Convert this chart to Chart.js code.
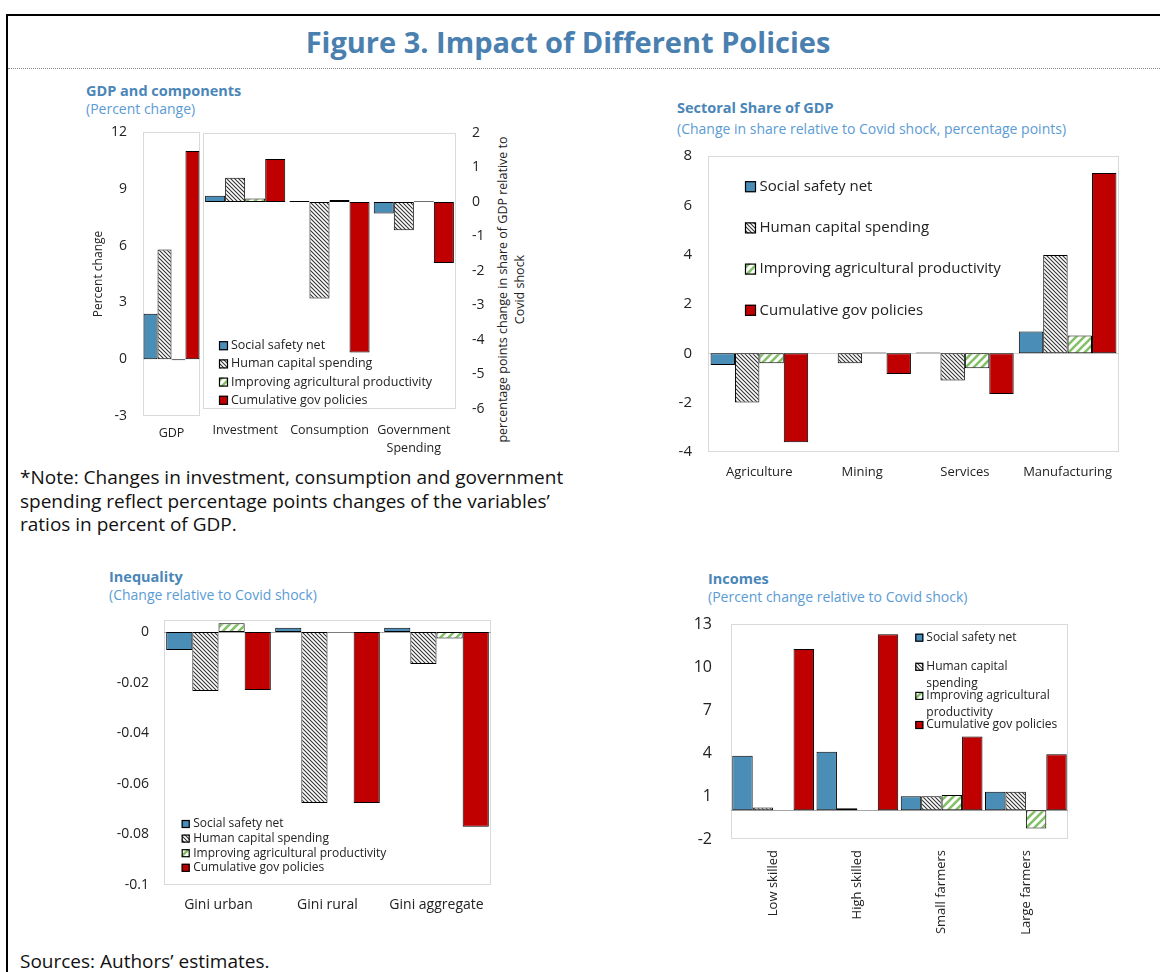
<!DOCTYPE html>
<html>
<head>
<meta charset="utf-8">
<script src="https://cdn.jsdelivr.net/npm/chart.js@4.4.1/dist/chart.umd.min.js"></script>
<style>
  html, body { margin: 0; padding: 0; background: #fff; }
  body { width: 1160px; height: 972px; position: relative; overflow: hidden; font-family: 'Open Sans', sans-serif; color: #111; }
  .abs { position: absolute; white-space: nowrap; }
  .frame { position: absolute; left: 6px; top: 14px; width: 1170px; height: 980px; border-top: 2px solid #000; border-left: 2px solid #000; }
  .rule { position: absolute; left: 8px; top: 68px; width: 1152px; border-top: 1px dotted #8a8a8a; }
  .fig-title { left: 0; width: 1136px; top: 24px; text-align: center; font-size: 29px; line-height: 36px; font-weight: 700; color: #4a80b0; }
  .ptitle { font-size: 14.5px; line-height: 18px; font-weight: 700; color: #4a86b8; }
  .psub { font-size: 14px; line-height: 18px; color: #5b9bd5; }
  .note { font-size: 19px; line-height: 23.5px; color: #111; }
  .rtitle { left: 351px; top: 273px; width: 320px; font-size: 12.5px; line-height: 16.5px; text-align: center; color: #222; transform: rotate(-90deg); }
  canvas { position: absolute; }
</style>
</head>
<body>
<div class="frame"></div>
<div class="rule"></div>
<div class="abs fig-title">Figure 3. Impact of Different Policies</div>

<div class="abs ptitle" style="left:86px;top:82px">GDP and components</div>
<div class="abs psub" style="left:86px;top:100px">(Percent change)</div>
<div class="abs ptitle" style="left:677px;top:99px">Sectoral Share of GDP</div>
<div class="abs psub" style="left:677px;top:120px">(Change in share relative to Covid shock, percentage points)</div>
<div class="abs ptitle" style="left:109px;top:568px">Inequality</div>
<div class="abs psub" style="left:109px;top:586px">(Change relative to Covid shock)</div>
<div class="abs ptitle" style="left:708px;top:570px">Incomes</div>
<div class="abs psub" style="left:708px;top:588px">(Percent change relative to Covid shock)</div>

<div class="abs rtitle">percentage points change in share of GDP relative to<br>Covid shock</div>

<div class="abs note" style="left:20px;top:466px">*Note: Changes in investment, consumption and government<br>spending reflect percentage points changes of the variables’<br>ratios in percent of GDP.</div>
<div class="abs note" style="left:20px;top:950px">Sources: Authors’ estimates.</div>

<canvas id="gdpChart" width="117" height="330" style="left:85px;top:120px"></canvas>
<canvas id="compChart" width="330" height="335" style="left:200px;top:120px"></canvas>
<canvas id="sectorChart" width="465" height="340" style="left:660px;top:145px"></canvas>
<canvas id="giniChart" width="395" height="310" style="left:100px;top:610px"></canvas>
<canvas id="incomeChart" width="384" height="322" style="left:688px;top:614px"></canvas>

<script>
// series (same four in every panel)
const policies = ['Social safety net', 'Human capital spending', 'Improving agricultural productivity', 'Cumulative gov policies'];

// GDP and components
const gdpCategories = ['GDP'];
const gdpValues = [2.4, 5.8, -0.05, 11.0]; // one value per policy
const gdpTicks = [-3, 0, 3, 6, 9, 12];

const compCategories = ['Investment', 'Consumption', ['Government', 'Spending']];
const compSafetyNet = [0.18, 0.03, -0.33];
const compHumanCapital = [0.70, -2.80, -0.82];
const compAgri = [0.10, 0.06, 0.02];
const compCumulative = [1.25, -4.36, -1.77];
const compTicks = [-6, -5, -4, -3, -2, -1, 0, 1, 2];

// Sectoral share of GDP
const sectors = ['Agriculture', 'Mining', 'Services', 'Manufacturing'];
const sectorSafetyNet = [-0.47, 0, 0.03, 0.89];
const sectorHumanCapital = [-1.99, -0.40, -1.10, 3.99];
const sectorAgri = [-0.40, 0.03, -0.60, 0.72];
const sectorCumulative = [-3.60, -0.84, -1.65, 7.31];
const sectorTicks = [-4, -2, 0, 2, 4, 6, 8];

// Inequality
const giniCategories = ['Gini urban', 'Gini rural', 'Gini aggregate'];
const giniSafetyNet = [-0.0072, 0.0016, 0.0016];
const giniHumanCapital = [-0.0234, -0.0676, -0.0127];
const giniAgri = [0.0034, -0.0002, -0.0026];
const giniCumulative = [-0.0230, -0.0676, -0.0770];
const giniTicks = [-0.1, -0.08, -0.06, -0.04, -0.02, 0];

// Incomes
const incomeGroups = ['Low skilled', 'High skilled', 'Small farmers', 'Large farmers'];
const incSafetyNet = [3.80, 4.08, 0.98, 1.30];
const incHumanCapital = [0.20, 0.14, 0.98, 1.30];
const incAgri = [0, 0, 1.07, -1.26];
const incCumulative = [11.26, 12.28, 5.15, 3.92];
const incTicks = [-2, 1, 4, 7, 10, 13];
const incLegendLines = [['Social safety net'], ['Human capital', 'spending'], ['Improving agricultural', 'productivity'], ['Cumulative gov policies']];

Chart.defaults.font.family = "'Open Sans', sans-serif";

// diagonal stripe fills
function stripes(size, color, width, dir) {
    const c = document.createElement('canvas');
    c.width = c.height = size;
    const g = c.getContext('2d');
    g.fillStyle = '#fff';
    g.fillRect(0, 0, size, size);
    g.strokeStyle = color;
    g.lineWidth = width;
    g.beginPath();
    for (let k = -1; k <= 1; k++) {
        if (dir === 'down') {
            g.moveTo(k * size - 1, -1);
            g.lineTo(k * size + size + 1, size + 1);
        } else {
            g.moveTo(k * size - 1, size + 1);
            g.lineTo(k * size + size + 1, -1);
        }
    }
    g.stroke();
    return g.createPattern(c, 'repeat');
}

const fills = [
    '#4a8db7',
    stripes(4, '#333', 1.1, 'down'),
    stripes(8, '#84c066', 2.6, 'up'),
    '#c00000'
];

// box round the plot area + optional zero line
const framePlugin = {
    id: 'frame',
    beforeDatasetsDraw(chart, args, o) {
        const ctx = chart.ctx, a = chart.chartArea;
        ctx.save();
        ctx.strokeStyle = '#d9d9d9';
        ctx.lineWidth = 1;
        ctx.strokeRect(Math.round(a.left) + 0.5, Math.round(a.top) + 0.5, Math.round(a.right - a.left) - 1, Math.round(a.bottom - a.top) - 1);
        if (o.zero) {
            const y = Math.round(chart.scales.y.getPixelForValue(0)) + 0.5;
            ctx.strokeStyle = o.zero;
            ctx.beginPath();
            ctx.moveTo(a.left, y);
            ctx.lineTo(a.right, y);
            ctx.stroke();
        }
        ctx.restore();
    }
};

// legend drawn inside the plot area
const insideLegend = {
    id: 'insideLegend',
    afterDatasetsDraw(chart, args, o) {
        if (o.dx === undefined) return;
        const ctx = chart.ctx, a = chart.chartArea;
        ctx.save();
        ctx.font = o.font;
        ctx.textBaseline = 'middle';
        chart.data.datasets.forEach((ds, i) => {
            const bx = a.left + o.dx;
            const cy = a.top + o.dy + i * o.spacing;
            ctx.fillStyle = ds.backgroundColor;
            ctx.fillRect(bx, cy - o.box / 2, o.box, o.box);
            ctx.strokeStyle = '#000';
            ctx.lineWidth = 1.2;
            ctx.strokeRect(bx + 0.5, cy - o.box / 2 + 0.5, o.box - 1, o.box - 1);
            ctx.fillStyle = '#222';
            const lines = o.lines ? o.lines[i] : [ds.label];
            lines.forEach((t, j) => ctx.fillText(t, bx + o.box + o.gap, cy + j * (o.lineHeight || 0)));
        });
        ctx.restore();
    }
};

Chart.register(framePlugin, insideLegend);

function makeChart(id, cfg) {
    const datasets = cfg.series.map((data, i) => ({
        label: policies[i],
        data: data,
        backgroundColor: fills[i],
        borderColor: '#000',
        borderWidth: 1,
        borderSkipped: false,
        categoryPercentage: cfg.catPct,
        barPercentage: 1
    }));
    return new Chart(document.getElementById(id), {
        type: 'bar',
        data: { labels: cfg.labels, datasets: datasets },
        options: {
            responsive: false,
            animation: false,
            layout: { padding: cfg.padding },
            plugins: {
                legend: { display: false },
                tooltip: { enabled: false },
                frame: { zero: cfg.zero || false },
                insideLegend: cfg.legend || {}
            },
            scales: {
                x: {
                    grid: { display: false, drawTicks: false },
                    border: { display: false },
                    ticks: {
                        color: '#222',
                        font: cfg.xFont,
                        padding: cfg.xPad,
                        autoSkip: false,
                        maxRotation: cfg.xRot || 0,
                        minRotation: cfg.xRot || 0
                    },
                    afterFit: s => { s.height = cfg.xHeight; s.paddingLeft = 0; s.paddingRight = 0; }
                },
                y: {
                    position: cfg.yPos || 'left',
                    min: cfg.ticks[0],
                    max: cfg.yMax !== undefined ? cfg.yMax : cfg.ticks[cfg.ticks.length - 1],
                    grid: { display: false, drawTicks: false },
                    border: { display: false },
                    ticks: {
                        color: '#222',
                        font: cfg.yFont,
                        padding: cfg.yPad,
                        callback: v => String(+v.toFixed(2))
                    },
                    title: cfg.yTitle || { display: false },
                    afterBuildTicks: s => { s.ticks = cfg.ticks.map(v => ({ value: v })); },
                    afterFit: s => { s.width = cfg.yWidth; s.paddingTop = 0; s.paddingBottom = 0; }
                }
            }
        }
    });
}

document.addEventListener('DOMContentLoaded', () => {
    // GDP (left axis)
    makeChart('gdpChart', {
        labels: gdpCategories,
        series: gdpValues.map(v => [v]),
        ticks: gdpTicks,
        catPct: 0.98,
        padding: { top: 12, right: 2, left: 0, bottom: 0 },
        xHeight: 34, xPad: 10, xFont: { size: 12.5 },
        yWidth: 58, yPad: 16, yFont: { size: 14 },
        yTitle: { display: true, text: 'Percent change', color: '#222', font: { size: 12 }, padding: { top: 6, bottom: 0 } }
    });

    // Components (right axis)
    makeChart('compChart', {
        labels: compCategories,
        series: [compSafetyNet, compHumanCapital, compAgri, compCumulative],
        ticks: compTicks,
        catPct: 0.95,
        padding: { top: 13, right: 0, left: 3, bottom: 0 },
        xHeight: 46, xPad: 12, xFont: { size: 12.5, lineHeight: 1.44 },
        yPos: 'right', yWidth: 74, yPad: 16, yFont: { size: 14 },
        legend: { dx: 16, dy: 212.7, spacing: 18.2, box: 9, gap: 3, font: "12.5px 'Open Sans'" }
    });

    // Sectoral share of GDP
    makeChart('sectorChart', {
        labels: sectors,
        series: [sectorSafetyNet, sectorHumanCapital, sectorAgri, sectorCumulative],
        ticks: sectorTicks,
        catPct: 0.95,
        padding: { top: 11, right: 6, left: 0, bottom: 0 },
        xHeight: 33, xPad: 12, xFont: { size: 13 },
        yWidth: 48, yPad: 16, yFont: { size: 15 },
        zero: '#cfcfcf',
        legend: { dx: 37, dy: 30.7, spacing: 41.2, box: 11, gap: 3.5, font: "15px 'Open Sans'" }
    });

    // Inequality
    makeChart('giniChart', {
        labels: giniCategories,
        series: [giniSafetyNet, giniHumanCapital, giniAgri, giniCumulative],
        ticks: giniTicks,
        yMax: 0.0047,
        catPct: 0.96,
        padding: { top: 10, right: 4, left: 0, bottom: 0 },
        xHeight: 35, xPad: 12, xFont: { size: 14 },
        yWidth: 64, yPad: 15, yFont: { size: 14 },
        zero: '#a6a6a6',
        legend: { dx: 17.7, dy: 204, spacing: 14.6, box: 8, gap: 3.5, font: "12px 'Open Sans'" }
    });

    // Incomes
    makeChart('incomeChart', {
        labels: incomeGroups,
        series: [incSafetyNet, incHumanCapital, incAgri, incCumulative],
        ticks: incTicks,
        catPct: 0.97,
        padding: { top: 10, right: 4, left: 0, bottom: 0 },
        xHeight: 97, xPad: 11, xFont: { size: 13 }, xRot: 90,
        yWidth: 43, yPad: 19, yFont: { size: 16 },
        zero: '#a6a6a6',
        legend: { dx: 184.3, dy: 13.7, spacing: 29.1, lineHeight: 16.7, box: 8, gap: 3, font: "12px 'Open Sans'", lines: incLegendLines }
    });
});
</script>
</body>
</html>
